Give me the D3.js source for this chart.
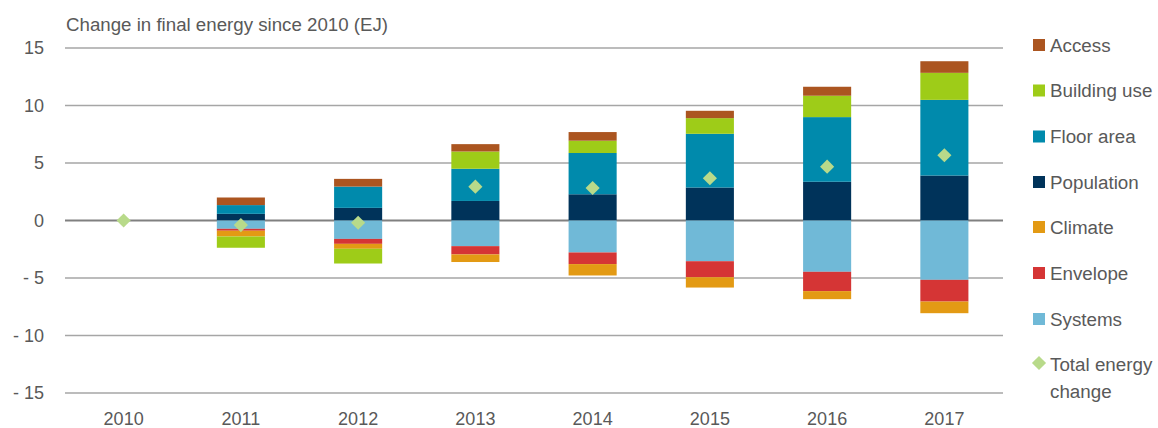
<!DOCTYPE html>
<html><head><meta charset="utf-8">
<script src="https://cdn.jsdelivr.net/npm/d3@7"></script>
<style>body{margin:0;background:#fff}svg{display:block;font-family:"Liberation Sans",Arial,sans-serif}</style>
</head><body><svg id="c" width="1158" height="428"></svg>
<script>
const years = ["2010","2011","2012","2013","2014","2015","2016","2017"];
const access     = [0, 0.66, 0.67, 0.64, 0.75, 0.64, 0.78, 1.01];
const buildingUse= [0, -0.98, -1.28, 1.5, 1.07, 1.36, 1.86, 2.35];
const floorArea  = [0, 0.76, 1.85, 2.8, 3.59, 4.67, 5.62, 6.58];
const population = [0, 0.58, 1.1, 1.7, 2.28, 2.87, 3.37, 3.91];
const climate    = [0, -0.5, -0.43, -0.66, -0.99, -0.9, -0.7, -1.01];
const envelope   = [0, -0.17, -0.43, -0.72, -1.01, -1.39, -1.68, -1.89];
const systems    = [0, -0.72, -1.6, -2.23, -2.78, -3.54, -4.46, -5.16];
const total      = [0, -0.4, -0.2, 2.94, 2.83, 3.67, 4.68, 5.67];
const yTicks = [15, 10, 5, 0, -5, -10, -15];
const yTickLabels = ["15","10","5","0","- 5","- 10","- 15"];

const series = [
  {name:"Access", values:access, color:"#AB5520"},
  {name:"Building use", values:buildingUse, color:"#9ECC18"},
  {name:"Floor area", values:floorArea, color:"#008AAC"},
  {name:"Population", values:population, color:"#00335A"},
  {name:"Climate", values:climate, color:"#E39A14"},
  {name:"Envelope", values:envelope, color:"#D53535"},
  {name:"Systems", values:systems, color:"#70B9D7"}
];
// stacking order from the axis outward
const posOrder = ["Population","Floor area","Building use","Access"];
const negOrder = ["Systems","Envelope","Climate","Building use"];

const svg = d3.select("#c");
const x = d3.scaleBand().domain(years).range([65, 1003]).paddingInner(0.59).paddingOuter(0.295);
const y = d3.scaleLinear().domain([-15, 15]).range([393, 48]);
const txt = "#595959";
const FF = "'Liberation Sans',Arial,sans-serif";

// gridlines
svg.append("g").selectAll("line").data(yTicks).join("line")
  .attr("x1", 65).attr("x2", 1003)
  .attr("y1", d => y(d)).attr("y2", d => y(d))
  .attr("stroke", d => d === 0 ? "#808080" : "#A6A6A6")
  .attr("stroke-width", d => d === 0 ? 2 : 1.5);

// y axis labels
const yAxis = d3.axisLeft(y).tickValues(yTicks).tickSize(0).tickPadding(0)
  .tickFormat((d,i) => yTickLabels[i]);
const ya = svg.append("g").attr("transform","translate(44,0)").call(yAxis);
ya.select(".domain").remove();
ya.selectAll("text").attr("fill", txt).style("font-size","18px").style("font-family",FF);

// x axis labels
const xAxis = d3.axisBottom(x).tickSize(0).tickPadding(0);
const xa = svg.append("g").attr("transform","translate(0,412)").call(xAxis);
xa.select(".domain").remove();
xa.selectAll("text").attr("fill", txt).style("font-size","18px").style("font-family",FF);

// stacked bars
const byName = Object.fromEntries(series.map(s => [s.name, s]));
years.forEach((yr, i) => {
  let pos = 0, neg = 0;
  posOrder.forEach(n => {
    const v = byName[n].values[i];
    if (v <= 0) return;
    svg.append("rect")
      .attr("x", x(yr)).attr("width", x.bandwidth())
      .attr("y", y(pos + v)).attr("height", y(pos) - y(pos + v))
      .attr("fill", byName[n].color);
    pos += v;
  });
  negOrder.forEach(n => {
    const v = byName[n].values[i];
    if (v >= 0) return;
    svg.append("rect")
      .attr("x", x(yr)).attr("width", x.bandwidth())
      .attr("y", y(neg)).attr("height", y(neg + v) - y(neg))
      .attr("fill", byName[n].color);
    neg += v;
  });
});

// total diamonds
const diamond = d3.symbol().type(d3.symbolSquare).size(100);
svg.append("g").selectAll("path").data(total).join("path")
  .attr("d", diamond)
  .attr("transform", (d,i) => `translate(${x(years[i]) + x.bandwidth()/2},${y(d)}) rotate(45)`)
  .attr("fill", "#B8DA8A");

// title
svg.append("text").attr("x", 66).attr("y", 31).attr("fill", txt)
  .style("font-size","18.7px").text("Change in final energy since 2010 (EJ)");

// legend
const leg = svg.append("g");
const legY = [45, 90.5, 136.5, 182, 227, 273, 319];
series.forEach((s, i) => {
  leg.append("rect").attr("x", 1033).attr("y", legY[i] - 6).attr("width", 12).attr("height", 12).attr("fill", s.color);
  leg.append("text").attr("x", 1050).attr("y", legY[i]).attr("dy","0.35em").attr("fill", txt)
    .style("font-size","18.8px").text(s.name);
});
leg.append("path").attr("d", diamond)
  .attr("transform", "translate(1039,363) rotate(45)").attr("fill", "#B8DA8A");
leg.append("text").attr("x", 1050).attr("y", 364).attr("dy","0.35em").attr("fill", txt)
  .style("font-size","18.8px").text("Total energy");
leg.append("text").attr("x", 1050).attr("y", 391).attr("dy","0.35em").attr("fill", txt)
  .style("font-size","18.8px").text("change");
</script></body></html>
